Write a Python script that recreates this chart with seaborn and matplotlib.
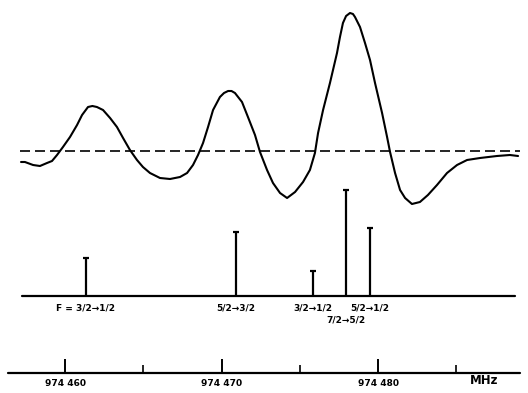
import matplotlib
matplotlib.use("Agg")
import matplotlib.pyplot as plt
import seaborn as sns

sns.set_style("white")
plt.rcParams['font.family'] = ['DejaVu Sans']
plt.rcParams['text.color'] = 'black'

# -----------------------------
# DATA
# -----------------------------

# recorded absorption trace (frequency in MHz, signal in arbitrary units)
trace_freq = [974457.19, 974457.44, 974457.96, 974458.40, 974458.85, 974459.17,
              974459.49, 974459.87, 974460.32, 974460.77, 974461.09, 974461.47,
              974461.75, 974462.04, 974462.43, 974462.88, 974463.32, 974463.71,
              974464.15, 974464.60, 974464.98, 974465.43, 974466.07, 974466.71,
              974467.35, 974467.80, 974468.18, 974468.50, 974468.82, 974469.14,
              974469.46, 974469.90, 974470.16, 974470.42, 974470.64, 974470.86,
              974471.31, 974471.69, 974472.14, 974472.46, 974472.91, 974473.29,
              974473.74, 974474.19, 974474.70, 974475.21, 974475.65, 974475.97,
              974476.17, 974476.49, 974476.93, 974477.38, 974477.57, 974477.76,
              974477.96, 974478.21, 974478.40, 974478.53, 974478.85, 974479.17,
              974479.49, 974479.81, 974480.26, 974480.58, 974480.77, 974481.09,
              974481.41, 974481.73, 974482.17, 974482.68, 974483.19, 974483.77,
              974484.41, 974485.05, 974485.69, 974486.52, 974487.60, 974488.43,
              974488.95]
trace_signal = [-11, -11, -14, -15, -12, -10,
                -4, 4, 14, 26, 36, 44,
                45, 44, 41, 33, 24, 13,
                1, -9, -16, -22, -27, -28,
                -26, -22, -14, -4, 8, 24,
                41, 54, 58, 60, 60, 58,
                49, 34, 16, -1, -19, -32,
                -42, -47, -41, -31, -19, -2,
                18, 41, 68, 98, 114, 128,
                135, 138, 137, 134, 124, 108,
                91, 68, 38, 14, -1, -22,
                -39, -47, -53, -51, -44, -34,
                -22, -14, -9, -7, -5, -4,
                -5]

# calculated hyperfine components
line_freq = [974461.34, 974470.93, 974475.85, 974477.96, 974479.49]
line_intensity = [38, 64, 25, 106, 68]
line_labels = ["F = 3/2→1/2", "5/2→3/2", "3/2→1/2", "7/2→5/2", "5/2→1/2"]
label_row = [0, 0, 0, 1, 0]

# frequency scale
major_ticks = [974460, 974470, 974480]
major_labels = ["974 460", "974 470", "974 480"]
minor_ticks = [974465, 974475, 974485]

# -----------------------------
# LAYOUT (three stacked panels sharing the frequency axis)
# -----------------------------
W, H = 528, 393
px0, px_per_mhz = 65, 15.65
xlim = (974460 - px0 / px_per_mhz, 974460 + (W - px0) / px_per_mhz)

def panel(top, bottom):
    return [0, 1 - bottom / H, 1, (bottom - top) / H]

fig = plt.figure(figsize=(W / 100, H / 100), dpi=100)
ax_tr = fig.add_axes(panel(0, 215))
ax_st = fig.add_axes(panel(215, 335))
ax_sc = fig.add_axes(panel(335, 393))
for ax in (ax_tr, ax_st, ax_sc):
    ax.set_xlim(*xlim)
    ax.axis("off")

# -----------------------------
# 1. RECORDED TRACE
# -----------------------------
ax_tr.set_ylim(-64, 151)
ax_tr.plot([974457.1, 974489.1], [0, 0], color="black", lw=1.2,
           dashes=(6, 3))
sns.lineplot(x=trace_freq, y=trace_signal, ax=ax_tr, color="black", lw=1.5,
             solid_joinstyle="round", solid_capstyle="round")

# -----------------------------
# 2. STICK SPECTRUM
# -----------------------------
ax_st.set_ylim(-39, 81)
ax_st.plot([974457.25, 974488.75], [0, 0], color="black", lw=1.6)
ax_st.vlines(line_freq, 0, line_intensity, color="black", lw=1.6,
             clip_on=False)
ax_st.scatter(line_freq, line_intensity, marker="_", s=25, color="black",
              linewidths=1.6, clip_on=False)
for f, lab, row in zip(line_freq, line_labels, label_row):
    ax_st.text(f, -12 - 12 * row, lab, ha="center", va="center",
               fontsize=6.5, fontweight="bold")

# -----------------------------
# 3. FREQUENCY SCALE
# -----------------------------
ax_sc.set_ylim(-20, 38)
ax_sc.plot([974456.36, 974489.07], [0, 0], color="black", lw=1.6)
ax_sc.vlines(major_ticks, 0, 14, color="black", lw=1.4)
ax_sc.vlines(minor_ticks, 0, 8, color="black", lw=1.2)
for f, lab in zip(major_ticks, major_labels):
    ax_sc.text(f, -10, lab, ha="center", va="center",
               fontsize=6.5, fontweight="bold")
ax_sc.text(974486.8, -8, "MHz", ha="center", va="center",
           fontsize=8.5, fontweight="bold")

plt.savefig("out.png", dpi=100)
